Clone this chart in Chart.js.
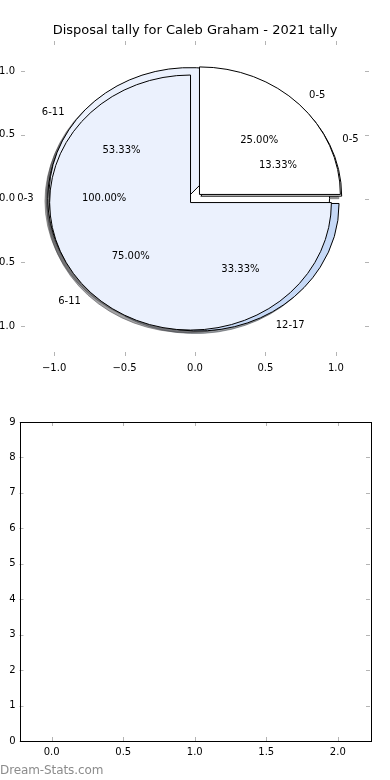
<!DOCTYPE html>
<html><head><meta charset="utf-8">
<script src="https://cdn.jsdelivr.net/npm/chart.js@4"></script>
<style>
html,body{margin:0;padding:0;background:#fff;}
#wrap{position:relative;width:390px;height:780px;overflow:hidden;background:#fff;}
#c1{position:absolute;left:-20px;top:0;}
#c2{position:absolute;left:-20px;top:390px;}
#wm{position:absolute;left:0;top:763px;font:12px "DejaVu Sans";color:#8c8c8c;white-space:nowrap;letter-spacing:-0.1px;}
</style></head><body>
<div id="wrap">
<canvas id="c1" width="410" height="390"></canvas>
<canvas id="c2" width="410" height="390"></canvas>
<div id="wm">Dream-Stats.com</div>
</div>
<script>
// ---- data ----
const chartTitle = 'Disposal tally for Caleb Graham - 2021 tally';
const pie1Labels = ['0-3'];
const pie1Values = [1];
const pie2Labels = ['0-5', '6-11', '12-17'];
const pie2Values = [2, 8, 5];
const pie3Labels = ['0-5', '6-11'];
const pie3Values = [1, 3];
const pieTicks = [-1, -0.5, 0, 0.5, 1];
const barXTicks = [0, 0.5, 1, 1.5, 2];
const barYTicks = [0, 1, 2, 3, 4, 5, 6, 7, 8, 9];

// ---- styles ----
const sliceColors = ['#ffffff', '#ebf1fd', '#c6d9f7'];
const EXPLODE = 0.045;
const FONT = 'DejaVu Sans';

function pieGeometry(labels, values) {
  const total = values.reduce((a, b) => a + b, 0);
  let t1 = 0;
  return values.map((v, i) => {
    const frac = v / total;
    const t2 = t1 + frac * 360;
    const tm = (t1 + t2) / 2 * Math.PI / 180;
    const w = {label: labels[i], frac, t1, t2, tm,
      cx: EXPLODE * Math.cos(tm), cy: EXPLODE * Math.sin(tm), color: sliceColors[i % sliceColors.length]};
    t1 = t2;
    return w;
  });
}

function wedgePath(ctx, xs, ys, w, ox, oy) {
  const px = xs.getPixelForValue(w.cx) + ox, py = ys.getPixelForValue(w.cy) + oy;
  const rx = xs.getPixelForValue(1) - xs.getPixelForValue(0);
  const ry = ys.getPixelForValue(0) - ys.getPixelForValue(1);
  ctx.beginPath();
  if (w.frac >= 0.999999) {
    ctx.ellipse(px, py, rx, ry, 0, 0, 2 * Math.PI);
    ctx.closePath();
  } else {
    ctx.moveTo(px, py);
    ctx.ellipse(px, py, rx, ry, 0, -w.t1 * Math.PI / 180, -w.t2 * Math.PI / 180, true);
    ctx.closePath();
  }
}

function darken(hex) {
  const n = parseInt(hex.slice(1), 16);
  const r = Math.round(((n >> 16) & 255) * 0.3), g = Math.round(((n >> 8) & 255) * 0.3), b = Math.round((n & 255) * 0.3);
  return `rgb(${r},${g},${b})`;
}

// layers in drawing order (bottom to top)
const pieLayers = [
  pieGeometry(pie1Labels, pie1Values),
  pieGeometry(pie2Labels, pie2Values),
  pieGeometry(pie3Labels, pie3Values)
];

const piePlugin = {
  id: 'pies',
  afterDatasetsDraw(chart) {
    const ctx = chart.ctx, xs = chart.scales.x, ys = chart.scales.y;
    const ox = xs.getPixelForValue(-0.02) - xs.getPixelForValue(0);
    const oy = ys.getPixelForValue(-0.02) - ys.getPixelForValue(0);
    ctx.save();
    ctx.lineWidth = 1;
    ctx.lineJoin = 'miter';
    pieLayers.forEach(layer => layer.forEach(w => {
      const c = darken(w.color);
      ctx.globalAlpha = 0.5;
      wedgePath(ctx, xs, ys, w, ox, oy);
      ctx.fillStyle = c; ctx.fill();
      ctx.strokeStyle = c; ctx.stroke();
    }));
    ctx.globalAlpha = 1;
    pieLayers.forEach(layer => layer.forEach(w => {
      wedgePath(ctx, xs, ys, w, 0, 0);
      ctx.fillStyle = w.color; ctx.fill();
      ctx.strokeStyle = '#000'; ctx.stroke();
    }));
    ctx.fillStyle = '#000';
    ctx.font = '10px "' + FONT + '"';
    ctx.textBaseline = 'middle';
    pieLayers.forEach(layer => layer.forEach(w => {
      const lx = w.cx + 1.1 * Math.cos(w.tm), ly = w.cy + 1.1 * Math.sin(w.tm);
      ctx.textAlign = lx > 0 ? 'left' : 'right';
      ctx.fillText(w.label, xs.getPixelForValue(lx), ys.getPixelForValue(ly));
      const px = w.cx + 0.6 * Math.cos(w.tm), py = w.cy + 0.6 * Math.sin(w.tm);
      ctx.textAlign = 'center';
      ctx.fillText((w.frac * 100).toFixed(2) + '%', xs.getPixelForValue(px), ys.getPixelForValue(py));
    }));
    ctx.restore();
  }
};

const tickMarks = {
  id: 'tickMarks',
  afterDraw(chart) {
    const ctx = chart.ctx, a = chart.chartArea, xs = chart.scales.x, ys = chart.scales.y;
    const L = 4;
    ctx.save();
    ctx.strokeStyle = '#b4b4b4';
    ctx.lineWidth = 1;
    ctx.beginPath();
    xs.ticks.forEach(t => {
      const x = Math.round(xs.getPixelForValue(t.value)) + 0.5;
      ctx.moveTo(x, a.top); ctx.lineTo(x, a.top + L);
      ctx.moveTo(x, a.bottom); ctx.lineTo(x, a.bottom - L);
    });
    ys.ticks.forEach(t => {
      const y = Math.round(ys.getPixelForValue(t.value)) + 0.5;
      ctx.moveTo(a.left, y); ctx.lineTo(a.left + L, y);
      ctx.moveTo(a.right, y); ctx.lineTo(a.right - L, y);
    });
    ctx.stroke();
    if (chart.options.plugins.frame && chart.options.plugins.frame.show) {
      ctx.strokeStyle = '#000';
      ctx.strokeRect(Math.round(a.left) + 0.5, Math.round(a.top) + 0.5, Math.round(a.right - a.left), Math.round(a.bottom - a.top));
    }
    ctx.restore();
  }
};

const pieFmt = v => (v < 0 ? '\u2212' : '') + Math.abs(v).toFixed(1);
const tickFont = {family: FONT, size: 10};

new Chart(document.getElementById('c1'), {
  type: 'scatter',
  data: {datasets: [{data: []}]},
  options: {
    responsive: false, animation: false,
    layout: {padding: {left: 0, right: 21, top: 0, bottom: 9}},
    plugins: {
      legend: {display: false}, tooltip: {enabled: false},
      title: {display: true, fullSize: false, text: chartTitle, color: '#000',
        font: {family: FONT, size: 13, weight: 'normal'}, padding: {top: 23, bottom: 2.4}}
    },
    scales: {
      x: {type: 'linear', min: -1.235, max: 1.235,
        grid: {display: false, drawTicks: false}, border: {display: false},
        afterBuildTicks: s => { s.ticks = pieTicks.map(v => ({value: v})); },
        afterFit: s => { s.height = 25; },
        ticks: {padding: 6, color: '#000', font: tickFont, maxRotation: 0, autoSkip: false, callback: pieFmt}},
      y: {type: 'linear', min: -1.235, max: 1.235,
        grid: {display: false, drawTicks: false}, border: {display: false},
        afterBuildTicks: s => { s.ticks = pieTicks.map(v => ({value: v})); },
        afterFit: s => { s.width = 41; },
        ticks: {padding: 6, color: '#000', font: tickFont, autoSkip: false, callback: pieFmt}}
    }
  },
  plugins: [piePlugin, tickMarks]
});

new Chart(document.getElementById('c2'), {
  type: 'scatter',
  data: {datasets: [{data: []}]},
  options: {
    responsive: false, animation: false,
    layout: {padding: {left: 0, right: 20, top: 32, bottom: 17}},
    plugins: {legend: {display: false}, tooltip: {enabled: false}, frame: {show: true}},
    scales: {
      x: {type: 'linear', min: -0.225, max: 2.225,
        grid: {display: false, drawTicks: false}, border: {display: false},
        afterBuildTicks: s => { s.ticks = barXTicks.map(v => ({value: v})); },
        afterFit: s => { s.height = 22; },
        ticks: {padding: 5, color: '#000', font: tickFont, maxRotation: 0, autoSkip: false, callback: v => v.toFixed(1)}},
      y: {type: 'linear', min: 0, max: 9,
        grid: {display: false, drawTicks: false}, border: {display: false},
        afterBuildTicks: s => { s.ticks = barYTicks.map(v => ({value: v})); },
        afterFit: s => { s.width = 39.5; },
        ticks: {padding: 4, color: '#000', font: tickFont, autoSkip: false, callback: v => String(v)}}
    }
  },
  plugins: [tickMarks]
});
</script>
</body></html>
